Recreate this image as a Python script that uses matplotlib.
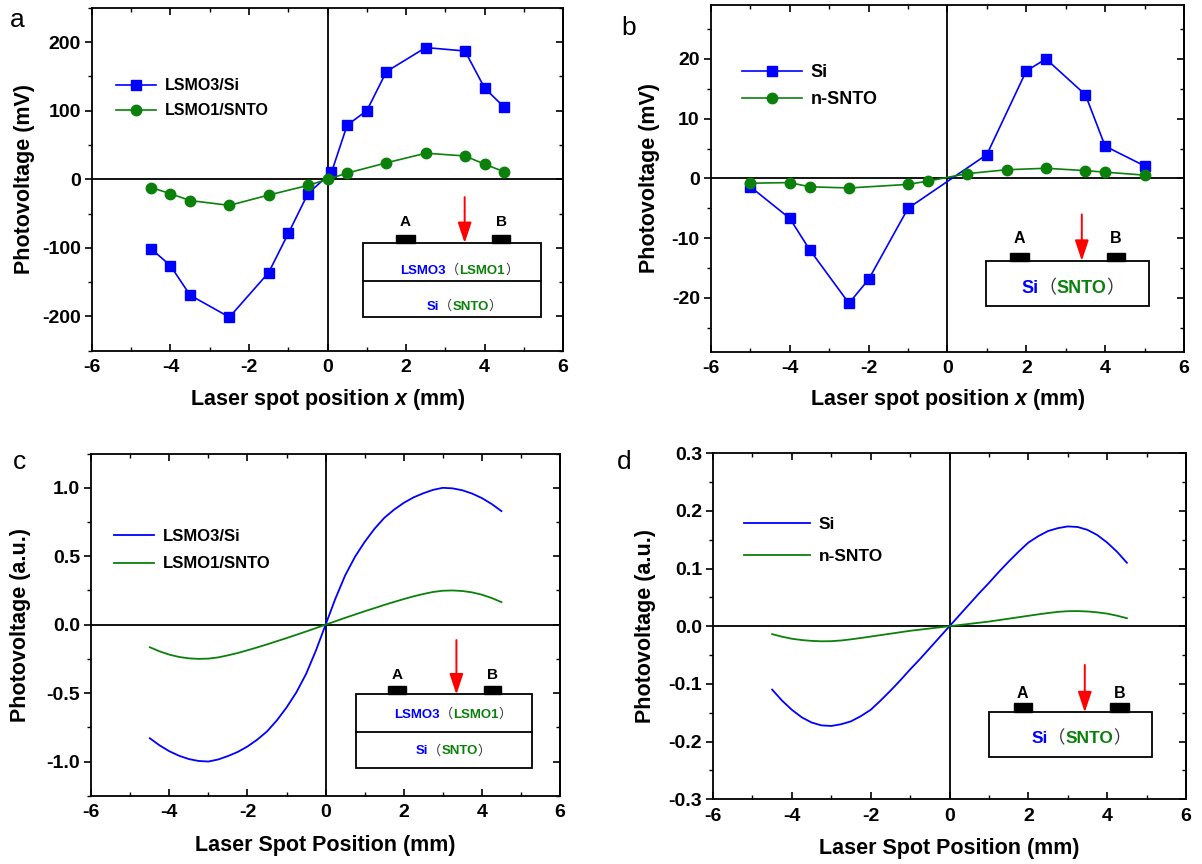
import numpy as np
import matplotlib
matplotlib.use('Agg')
import matplotlib.pyplot as plt
import matplotlib.transforms as mtransforms
from matplotlib.patches import Rectangle
from matplotlib.ticker import MultipleLocator, FormatStrFormatter

plt.rcParams['font.family'] = ['Liberation Sans', 'DejaVu Sans']
plt.rcParams['font.weight'] = 'bold'
plt.rcParams['axes.labelweight'] = 'bold'
plt.rcParams['axes.unicode_minus'] = False
plt.rcParams['mathtext.fontset'] = 'custom'
plt.rcParams['mathtext.it'] = 'Liberation Sans:italic:bold'
plt.rcParams['mathtext.rm'] = 'Liberation Sans:bold'
plt.rcParams['axes.linewidth'] = 1.3

BLUE = '#0000ff'
GREEN = '#0b800b'
PAREN = '#333333'

# ---- panel a: measured photovoltage (mV)
a_si_x = [-4.5, -4, -3.5, -2.5, -1.5, -1, -0.5, 0.1, 0.5, 1, 1.5, 2.5, 3.5, 4, 4.5]
a_si_y = [-101, -126, -169, -201, -136, -79, -21, 10, 79, 100, 157, 192, 187, 133, 105]
a_snto_x = [-4.5, -4, -3.5, -2.5, -1.5, -0.5, 0, 0.5, 1.5, 2.5, 3.5, 4, 4.5]
a_snto_y = [-12, -21, -31, -38, -23, -9, 0, 9, 24, 38, 34, 22, 11]

# ---- panel b: measured photovoltage (mV)
b_si_x = [-5, -4, -3.5, -2.5, -2, -1, 1, 2, 2.5, 3.5, 4, 5]
b_si_y = [-1.4, -6.7, -11.9, -20.9, -16.9, -5.0, 4.0, 18.0, 20.0, 14.0, 5.4, 2.1]
b_snto_x = [-5, -4, -3.5, -2.5, -1, -0.5, 0.5, 1.5, 2.5, 3.5, 4, 5]
b_snto_y = [-0.8, -0.7, -1.4, -1.6, -1.0, -0.45, 0.8, 1.45, 1.7, 1.3, 1.05, 0.55]

# ---- panels c, d: calculated curves (a.u.)
sim_x = [-4.5, -4.25, -4.0, -3.75, -3.5, -3.25, -3.0, -2.75, -2.5, -2.25, -2.0, -1.75,
         -1.5, -1.25, -1.0, -0.75, -0.5, -0.25, 0.0, 0.25, 0.5, 0.75, 1.0, 1.25, 1.5,
         1.75, 2.0, 2.25, 2.5, 2.75, 3.0, 3.25, 3.5, 3.75, 4.0, 4.25, 4.5]
c_si = [-0.83, -0.882, -0.925, -0.958, -0.982, -0.996, -1.0, -0.985, -0.96, -0.93, -0.89,
        -0.84, -0.78, -0.70, -0.605, -0.495, -0.36, -0.19, 0.0, 0.19, 0.36, 0.495, 0.605, 0.70,
        0.78, 0.84, 0.89, 0.93, 0.96, 0.985, 1.0, 0.996, 0.982, 0.958, 0.925, 0.882, 0.83]
c_snto = [-0.165, -0.195, -0.219, -0.236, -0.246, -0.25, -0.248, -0.239, -0.224, -0.207,
          -0.187, -0.166, -0.144, -0.121, -0.098, -0.074, -0.05, -0.025, 0.0, 0.025, 0.05,
          0.074, 0.098, 0.121, 0.144, 0.166, 0.187, 0.207, 0.224, 0.239, 0.248, 0.25, 0.246,
          0.236, 0.219, 0.195, 0.165]
d_si = [-0.11, -0.129, -0.145, -0.158, -0.167, -0.172, -0.173, -0.170, -0.165, -0.156,
        -0.145, -0.129, -0.112, -0.094, -0.075, -0.057, -0.038, -0.019, 0.0, 0.019, 0.038,
        0.057, 0.075, 0.094, 0.112, 0.129, 0.145, 0.156, 0.165, 0.170, 0.173, 0.172, 0.167,
        0.158, 0.145, 0.129, 0.11]
d_snto = [-0.0138, -0.0182, -0.0218, -0.024, -0.0255, -0.0262, -0.026, -0.0248, -0.0228,
          -0.0205, -0.018, -0.0155, -0.013, -0.0105, -0.008, -0.006, -0.004, -0.002, 0.0,
          0.002, 0.004, 0.006, 0.008, 0.0105, 0.013, 0.0155, 0.018, 0.0205, 0.0228, 0.0248,
          0.026, 0.0262, 0.0255, 0.024, 0.0218, 0.0182, 0.0138]

fig = plt.figure(figsize=(12.02, 8.64), dpi=100)
ax_a = fig.add_axes([0.0765, 0.594, 0.392, 0.397])
ax_b = fig.add_axes([0.5915, 0.593, 0.3935, 0.401])
ax_c = fig.add_axes([0.0759, 0.079, 0.390, 0.396])
ax_d = fig.add_axes([0.5932, 0.075, 0.3935, 0.4005])

TICK_FS = 14
LABEL_FS = 15.5


def style(ax, ylim, yticks, yminor, fmt):
    ax.set_xlim(-6, 6)
    ax.set_ylim(*ylim)
    ax.set_xticks([-6, -4, -2, 0, 2, 4, 6])
    ax.xaxis.set_minor_locator(MultipleLocator(1))
    ax.set_yticks(yticks)
    ax.yaxis.set_minor_locator(MultipleLocator(yminor))
    if fmt:
        ax.yaxis.set_major_formatter(FormatStrFormatter(fmt))
    ax.tick_params(axis='x', which='both', direction='in', top=True, labelsize=TICK_FS, pad=6)
    ax.tick_params(axis='x', which='major', length=5, width=1.2)
    ax.tick_params(axis='x', which='minor', length=3, width=1.0)
    ax.tick_params(axis='y', which='both', direction='out', labelsize=TICK_FS, pad=3)
    ax.tick_params(axis='y', which='major', length=5, width=1.2)
    ax.tick_params(axis='y', which='minor', length=3, width=1.0)
    sec = ax.secondary_yaxis('right')
    sec.set_yticks(yticks)
    sec.yaxis.set_minor_locator(MultipleLocator(yminor))
    sec.tick_params(which='both', direction='in', labelright=False)
    sec.tick_params(which='major', length=5, width=1.2)
    sec.tick_params(which='minor', length=3, width=1.0)
    ax.axhline(0, color='black', lw=1.3, zorder=1)
    ax.axvline(0, color='black', lw=1.3, zorder=1)


def color_text(ax, x, y, pieces):
    renderer = fig.canvas.get_renderer()
    trans = ax.transAxes
    for s, color, size, cjk in pieces:
        if cjk:
            t = ax.text(x, y, s, transform=trans, color=color, fontsize=size,
                        family=['Noto Sans CJK SC', 'DejaVu Sans'], fontweight='normal',
                        va='baseline', ha='left')
        else:
            t = ax.text(x, y, s, transform=trans, color=color, fontsize=size,
                        fontweight='bold', va='baseline', ha='left')
        w = t.get_window_extent(renderer).width
        trans = mtransforms.offset_copy(trans, fig=fig, x=w, units='dots')


def inset(ax, box, divider, elec_a, elec_b, elec_top, lab_y, arrow_x, arrow_top, lab_size, rows):
    x0, x1, y0, y1 = box
    ax.add_patch(Rectangle((x0, y0), x1 - x0, y1 - y0, transform=ax.transAxes,
                           fill=False, ec='black', lw=1.3, zorder=5))
    if divider is not None:
        ax.plot([x0, x1], [divider, divider], transform=ax.transAxes, color='black', lw=1.3, zorder=5)
    for (ex0, ex1), lab in ((elec_a, 'A'), (elec_b, 'B')):
        ax.add_patch(Rectangle((ex0, y1), ex1 - ex0, elec_top - y1, transform=ax.transAxes,
                               fc='black', ec='black', zorder=5))
        ax.text((ex0 + ex1) / 2, lab_y, lab, transform=ax.transAxes, ha='center', va='center',
                fontsize=lab_size, fontweight='bold')
    ax.annotate('', xy=(arrow_x, y1), xytext=(arrow_x, arrow_top), xycoords='axes fraction',
                arrowprops=dict(arrowstyle='-|>,head_length=0.9,head_width=0.3', color='red',
                                lw=1.4, shrinkA=0, shrinkB=0, mutation_scale=14), zorder=6)
    for (tx, ty, pieces) in rows:
        color_text(ax, tx, ty, pieces)


# ---- panel a
ax_a.plot(a_si_x, a_si_y, color=BLUE, marker='s', ms=6.5, lw=1.2, label='LSMO3/Si', zorder=3)
ax_a.plot(a_snto_x, a_snto_y, color=GREEN, marker='o', ms=7.5, lw=1.2, label='LSMO1/SNTO', zorder=3)
style(ax_a, (-250, 250), [-200, -100, 0, 100, 200], 50, None)
ax_a.set_xlabel(r'Laser spot position $\mathit{x}$ (mm)', fontsize=LABEL_FS, labelpad=8)
ax_a.set_ylabel('Photovoltage (mV)', fontsize=LABEL_FS)
ax_a.yaxis.set_label_coords(-0.121, 0.5)
ax_a.legend(loc='upper left', bbox_to_anchor=(0.052, 0.795), frameon=False, fontsize=11.5,
            handlelength=2.5, handletextpad=0.55, labelspacing=0.65, borderpad=0, borderaxespad=0)

# ---- panel b
ax_b.plot(b_si_x, b_si_y, color=BLUE, marker='s', ms=7, lw=1.2, label='Si', zorder=3)
ax_b.plot(b_snto_x, b_snto_y, color=GREEN, marker='o', ms=7.5, lw=1.2, label='n-SNTO', zorder=3)
style(ax_b, (-29, 29), [-20, -10, 0, 10, 20], 5, None)
ax_b.set_xlabel(r'Laser spot position $\mathit{x}$ (mm)', fontsize=LABEL_FS, labelpad=7)
ax_b.set_ylabel('Photovoltage (mV)', fontsize=LABEL_FS)
ax_b.yaxis.set_label_coords(-0.108, 0.5)
ax_b.legend(loc='upper left', bbox_to_anchor=(0.066, 0.83), frameon=False, fontsize=13,
            handlelength=3.3, handletextpad=0.5, labelspacing=0.55, borderpad=0, borderaxespad=0)

# ---- panel c
ax_c.plot(sim_x, c_si, color=BLUE, lw=1.3, label='LSMO3/Si', zorder=3)
ax_c.plot(sim_x, c_snto, color=GREEN, lw=1.3, label='LSMO1/SNTO', zorder=3)
style(ax_c, (-1.25, 1.25), [-1.0, -0.5, 0.0, 0.5, 1.0], 0.25, '%.1f')
ax_c.set_xlabel('Laser Spot Position (mm)', fontsize=LABEL_FS, labelpad=10)
ax_c.set_ylabel('Photovoltage (a.u.)', fontsize=LABEL_FS)
ax_c.yaxis.set_label_coords(-0.128, 0.5)
ax_c.legend(loc='upper left', bbox_to_anchor=(0.048, 0.78), frameon=False, fontsize=12,
            handlelength=2.4, handletextpad=0.55, labelspacing=0.75, borderpad=0, borderaxespad=0)

# ---- panel d
ax_d.plot(sim_x, d_si, color=BLUE, lw=1.3, label='Si', zorder=3)
ax_d.plot(sim_x, d_snto, color=GREEN, lw=1.3, label='n-SNTO', zorder=3)
style(ax_d, (-0.3, 0.3), [-0.3, -0.2, -0.1, 0.0, 0.1, 0.2, 0.3], 0.05, '%.1f')
ax_d.set_xlabel('Laser Spot Position (mm)', fontsize=LABEL_FS, labelpad=10)
ax_d.set_ylabel('Photovoltage (a.u.)', fontsize=LABEL_FS)
ax_d.yaxis.set_label_coords(-0.12, 0.5)
ax_d.legend(loc='upper left', bbox_to_anchor=(0.066, 0.815), frameon=False, fontsize=12.5,
            handlelength=3.8, handletextpad=0.5, labelspacing=0.95, borderpad=0, borderaxespad=0)

for ax, letter, xy in ((ax_a, 'a', (0.014, 0.977)), (ax_b, 'b', (0.523, 0.968)),
                       (ax_c, 'c', (0.016, 0.465)), (ax_d, 'd', (0.519, 0.465))):
    fig.text(xy[0], xy[1], letter, fontsize=19, fontweight='normal', ha='center', va='center')

fig.canvas.draw()

inset(ax_a, (0.576, 0.952, 0.098, 0.314), 0.204, (0.646, 0.685), (0.849, 0.888), 0.338, 0.374,
      0.791, 0.448, 11,
      [(0.655, 0.225, [('LSMO3', BLUE, 9.5, False), ('（', PAREN, 9.5, True),
                       ('LSMO1', GREEN, 9.5, False), ('）', PAREN, 9.5, True)]),
       (0.71, 0.12, [('Si', BLUE, 9.5, False), ('（', PAREN, 9.5, True),
                     ('SNTO', GREEN, 9.5, False), ('）', PAREN, 9.5, True)])])

inset(ax_b, (0.581, 0.926, 0.133, 0.262), None, (0.633, 0.673), (0.837, 0.875), 0.286, 0.327,
      0.784, 0.396, 11.5,
      [(0.656, 0.168, [('Si', BLUE, 13, False), ('（', PAREN, 13, True),
                       ('SNTO', GREEN, 13, False), ('）', PAREN, 13, True)])])

inset(ax_c, (0.565, 0.940, 0.082, 0.296), 0.187, (0.634, 0.671), (0.838, 0.875), 0.320, 0.352,
      0.779, 0.455, 11,
      [(0.647, 0.228, [('LSMO3', BLUE, 9.5, False), ('（', PAREN, 9.5, True),
                       ('LSMO1', GREEN, 9.5, False), ('）', PAREN, 9.5, True)]),
       (0.692, 0.121, [('Si', BLUE, 9.5, False), ('（', PAREN, 9.5, True),
                       ('SNTO', GREEN, 9.5, False), ('）', PAREN, 9.5, True)])])

inset(ax_d, (0.584, 0.929, 0.123, 0.251), None, (0.636, 0.674), (0.840, 0.879), 0.277, 0.306,
      0.786, 0.388, 11.5,
      [(0.674, 0.162, [('Si', BLUE, 12.5, False), ('（', PAREN, 12.5, True),
                       ('SNTO', GREEN, 12.5, False), ('）', PAREN, 12.5, True)])])

fig.savefig('out.png', dpi=100)
